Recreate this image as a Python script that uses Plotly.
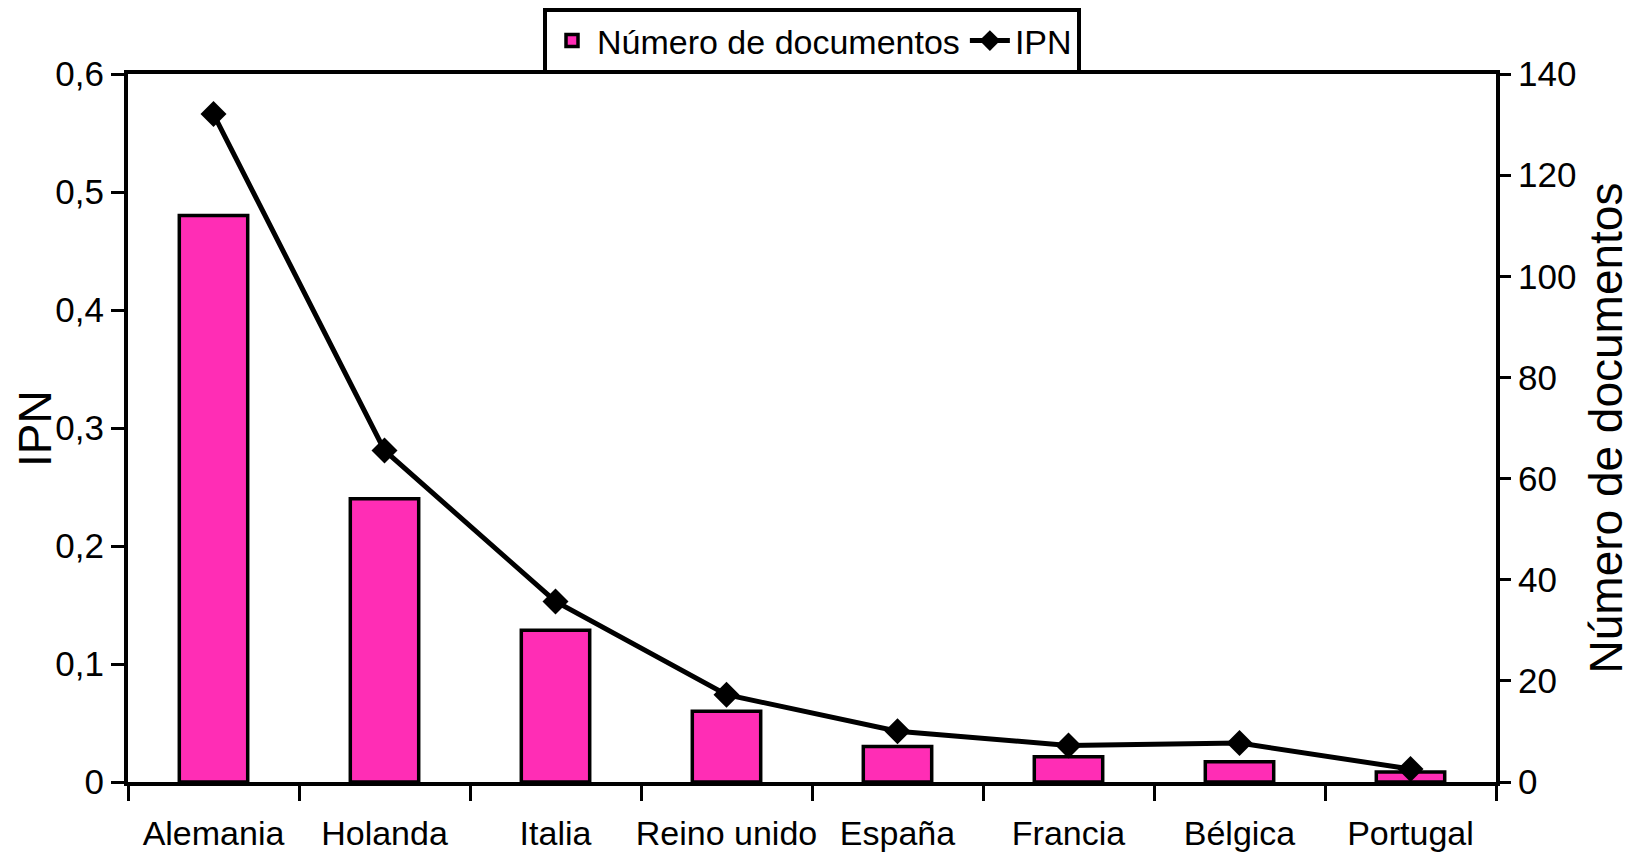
import plotly.graph_objects as go

# data
paises = ['Alemania', 'Holanda', 'Italia', 'Reino unido', 'España', 'Francia', 'Bélgica', 'Portugal']
num_documentos = [112, 56, 30, 14, 7, 5, 4, 2]
ipn = [0.566, 0.281, 0.153, 0.074, 0.043, 0.031, 0.033, 0.011]

ipn_ticks = [0, 0.1, 0.2, 0.3, 0.4, 0.5, 0.6]
doc_ticks = [0, 20, 40, 60, 80, 100, 120, 140]

FONT = 'Liberation Sans, Arial, sans-serif'

fig = go.Figure()

# bars on the primary axis (drawn right), line on an overlaying axis so it sits on top
fig.add_trace(go.Bar(x=paises, y=num_documentos, name='Número de documentos',
                     marker=dict(color='#FF2DB5', line=dict(color='black', width=3.5)),
                     yaxis='y'))
fig.add_trace(go.Scatter(x=paises, y=ipn, name='IPN', mode='lines+markers',
                         line=dict(color='black', width=5),
                         marker=dict(symbol='diamond', size=20, color='black'),
                         yaxis='y2'))

axis_common = dict(showline=True, linecolor='black', linewidth=4, ticks='outside',
                   tickcolor='black', tickwidth=3, showgrid=False, zeroline=False,
                   automargin=False,
                   tickfont=dict(family=FONT, size=35, color='black'))

# the page body adds an 8px offset, margins compensate for it
fig.update_layout(
    width=1646, height=854,
    margin=dict(l=120, r=158, t=62, b=80),
    plot_bgcolor='white', paper_bgcolor='white',
    separators=', ',
    bargap=0.6,
    font=dict(family=FONT, color='black'),
    xaxis=dict(type='category', showline=True, linecolor='black', linewidth=4, mirror=True,
               ticks='outside', tickson='boundaries', ticklen=15, tickwidth=3, tickcolor='black',
               tickangle=0, automargin=False, ticklabelstandoff=18,
               showgrid=False, tickfont=dict(family=FONT, size=34, color='black')),
    yaxis=dict(side='right', range=[0, 140], tickvals=doc_ticks, ticklen=11,
               title=dict(text='Número de documentos', font=dict(family=FONT, size=46, color='black')),
               **axis_common),
    yaxis2=dict(side='left', overlaying='y', range=[0, 0.6], tickvals=ipn_ticks, ticklen=13,
                **axis_common),
    legend=dict(orientation='h', x=0.5, xanchor='center', y=1.0, yanchor='top',
                yref='container', bordercolor='black', borderwidth=4, bgcolor='white',
                font=dict(family=FONT, size=34, color='black'), itemwidth=40,
                traceorder='normal'),
)

# left axis title placed by hand so it sits at the far edge like the original
fig.add_annotation(text='IPN', textangle=-90, xref='paper', yref='paper',
                   x=-0.068, y=0.5, xanchor='center', yanchor='middle', showarrow=False,
                   font=dict(family=FONT, size=46, color='black'))

fig.write_html('out.html')
